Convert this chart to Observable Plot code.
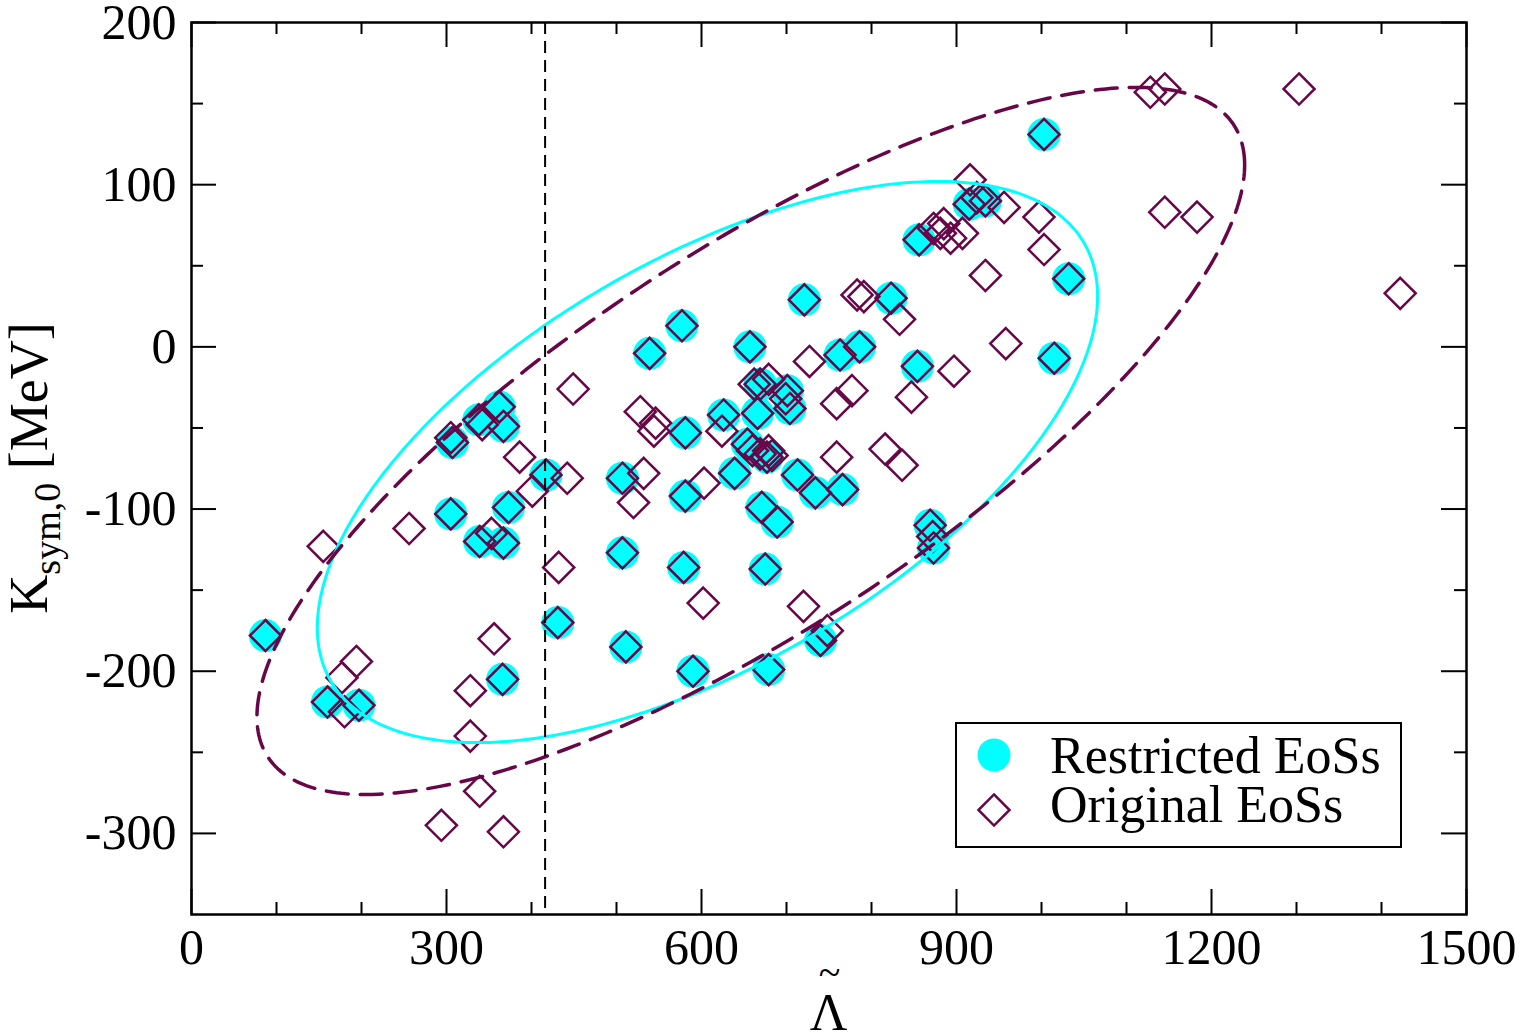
<!DOCTYPE html>
<html>
<head>
<meta charset="utf-8">
<script src="https://cdn.jsdelivr.net/npm/d3@7"></script>
<script src="https://cdn.jsdelivr.net/npm/@observablehq/plot@0.6"></script>
<style>
  html, body { margin: 0; padding: 0; background: #fff; }
  #chart svg { display: block; }
</style>
</head>
<body>
<div id="chart"></div>
<script>
// Restricted EoSs (tidal deformability vs. Ksym,0 in MeV)
const restrictedLambda = [87, 160, 197, 305, 307, 338, 339, 362, 367, 367, 373, 366, 417, 431, 507, 507, 511,
  539, 577, 581, 581, 579, 590, 626, 639, 654, 677, 657, 669, 701, 704, 666, 671, 689, 675, 679, 713, 734,
  766, 740, 721, 763, 786, 823, 854, 856, 869, 873, 915, 934, 1003, 1032, 1015];
const restrictedK = [-178, -219, -221, -103, -59, -45, -120, -37, -49, -121, -99, -205, -79, -170, -81, -127, -185,
  -4, 13, -53, -92, -136, -200, -42, -78, -60, -68, 0, -23, -27, -38, -41, -99, -108, -137, -199, -79, -90,
  -88, -181, 29, -5, 0, 30, -12, 66, -110, -124, 88, 90, 131, 42, -7];

// Original EoSs that did not survive the restriction
const otherLambda = [155, 256, 353, 401, 442, 386, 449, 432, 194, 177, 180, 356, 328, 328, 339, 294, 367,
  783, 791, 833, 934, 958, 727, 897, 847, 777, 759, 679, 699, 624, 528, 546, 544, 532, 520, 603, 759, 816,
  836, 602, 720, 748, 1128, 1145, 1303, 1145, 1183, 916, 924, 956, 997, 1003, 873, 885, 893, 907, 881, 1422,
  660, 669, 683, 679, 662, 872, 305, 342];
const otherK = [-123, -112, -115, -89, -81, -68, -26, -136, -194, -204, -225, -180, -212, -240, -274, -295, -299,
  32, 31, 17, 44, 2, -9, -15, -31, -27, -35, -20, -32, -52, -40, -47, -52, -78, -96, -84, -68, -63,
  -73, -158, -160, -175, 157, 159, 159, 83, 80, 103, 92, 86, 80, 60, 73, 76, 67, 70, 70, 33,
  -64, -66, -67, -64, -23, -117, -56, -48];

// Tidal-deformability bound (vertical line)
const lambdaBound = [416];

// Correlation ellipses: centre, half-extents and phase lag (degrees)
const restrictedEllipse = { cx: 607, cy: -71, ax: 459, ay: 173, phase: 53.8 };
const originalEllipse = { cx: 658, cy: -58, ax: 581, ay: 218, phase: 38.7 };

// Axis ticks
const xMajorTicks = [0, 300, 600, 900, 1200, 1500];
const xMinorTicks = [100, 200, 400, 500, 700, 800, 1000, 1100, 1300, 1400];
const yMajorTicks = [200, 100, 0, -100, -200, -300];
const yMinorTicks = [150, 50, -50, -150, -250];

const legendLabels = ["Restricted EoSs", "Original EoSs"];

const maroon = "#670748";
const cyan = "#00ffff";
const font = "'Liberation Serif', 'Times New Roman', serif";

const restricted = restrictedLambda.map((x, i) => ({ x, y: restrictedK[i] }));
const original = restricted.concat(otherLambda.map((x, i) => ({ x, y: otherK[i] })));

function ellipsePoints(e) {
  const ph = e.phase * Math.PI / 180;
  return d3.range(0, 361, 1).map(deg => {
    const t = deg * Math.PI / 180;
    return { x: e.cx + e.ax * Math.cos(t), y: e.cy + e.ay * Math.cos(t - ph) };
  });
}

const mL = 191, mR = 57, mT = 22, mB = 122;
const W = 1523, H = 1036;
const innerW = W - mL - mR, innerH = H - mT - mB;
const major = 25, minor = 12;

const chart = Plot.plot({
  width: W,
  height: H,
  marginLeft: mL,
  marginRight: mR,
  marginTop: mT,
  marginBottom: mB,
  style: { fontFamily: font, background: "#fff", color: "#000" },
  x: { domain: [0, 1500] },
  y: { domain: [-350, 200] },
  marks: [
    Plot.dot(restricted, { x: "x", y: "y", r: 16.5, fill: cyan, stroke: "none" }),
    Plot.dot(original, { x: "x", y: "y", symbol: "diamond2", r: 14, stroke: maroon, strokeWidth: 2.5, fill: "none" }),
    Plot.line(ellipsePoints(restrictedEllipse), { x: "x", y: "y", stroke: cyan, strokeWidth: 3 }),
    Plot.line(ellipsePoints(originalEllipse), { x: "x", y: "y", stroke: maroon, strokeWidth: 3.5, strokeDasharray: "22,12" }),
    Plot.ruleX(lambdaBound, { x: d => d, stroke: "#000", strokeWidth: 2, strokeDasharray: "12,7" }),
    // inward ticks on all four sides
    Plot.tickX(xMajorTicks, { x: d => d, insetTop: innerH - major, stroke: "#000", strokeWidth: 2 }),
    Plot.tickX(xMajorTicks, { x: d => d, insetBottom: innerH - major, stroke: "#000", strokeWidth: 2 }),
    Plot.tickX(xMinorTicks, { x: d => d, insetTop: innerH - minor, stroke: "#000", strokeWidth: 2 }),
    Plot.tickX(xMinorTicks, { x: d => d, insetBottom: innerH - minor, stroke: "#000", strokeWidth: 2 }),
    Plot.tickY(yMajorTicks, { y: d => d, insetRight: innerW - major, stroke: "#000", strokeWidth: 2 }),
    Plot.tickY(yMajorTicks, { y: d => d, insetLeft: innerW - major, stroke: "#000", strokeWidth: 2 }),
    Plot.tickY(yMinorTicks, { y: d => d, insetRight: innerW - minor, stroke: "#000", strokeWidth: 2 }),
    Plot.tickY(yMinorTicks, { y: d => d, insetLeft: innerW - minor, stroke: "#000", strokeWidth: 2 }),
    Plot.frame({ stroke: "#000", strokeWidth: 2.5 }),
    Plot.axisX(xMajorTicks, { tickSize: 0, tickPadding: 14, fontSize: 50, tickFormat: d => String(d), label: null }),
    Plot.axisY(yMajorTicks, { tickSize: 0, tickPadding: 15, fontSize: 50, tickFormat: d => String(d), label: null })
  ]
});

document.getElementById("chart").appendChild(chart);
const svg = d3.select(chart);

// x-axis title: Lambda with a tilde above it
const xc = mL + innerW / 2;
svg.append("text").attr("x", xc).attr("y", 1030).attr("text-anchor", "middle")
  .attr("font-family", font).attr("font-size", 52).attr("fill", "#000").text("Λ");
svg.append("text").attr("x", xc + 1).attr("y", 986).attr("text-anchor", "middle")
  .attr("font-family", font).attr("font-size", 40).attr("fill", "#000").text("~");

// y-axis title with subscript
const ylab = svg.append("text")
  .attr("transform", `translate(47,${mT + innerH / 2}) rotate(-90)`)
  .attr("text-anchor", "middle").attr("font-family", font).attr("font-size", 54).attr("fill", "#000");
ylab.append("tspan").text("K");
ylab.append("tspan").attr("font-size", 38).attr("dy", 13).text("sym,0");
ylab.append("tspan").attr("dy", -13).text(" [MeV]");

// legend box
const lg = svg.append("g").attr("font-family", font).attr("font-size", 52).attr("text-anchor", "start");
lg.append("rect").attr("x", 956).attr("y", 723).attr("width", 445).attr("height", 124)
  .attr("fill", "#fff").attr("stroke", "#000").attr("stroke-width", 2);
lg.append("circle").attr("cx", 994).attr("cy", 755).attr("r", 16.5).attr("fill", cyan);
lg.append("path").attr("transform", "translate(994,810)")
  .attr("d", d3.symbol(d3.symbolDiamond2, Math.PI * 14 * 14)())
  .attr("fill", "none").attr("stroke", maroon).attr("stroke-width", 2.5);
lg.append("text").attr("x", 1050).attr("y", 773).attr("fill", "#000").attr("text-anchor", "start").text(legendLabels[0]);
lg.append("text").attr("x", 1050).attr("y", 822).attr("fill", "#000").attr("text-anchor", "start").text(legendLabels[1]);
</script>
</body>
</html>
